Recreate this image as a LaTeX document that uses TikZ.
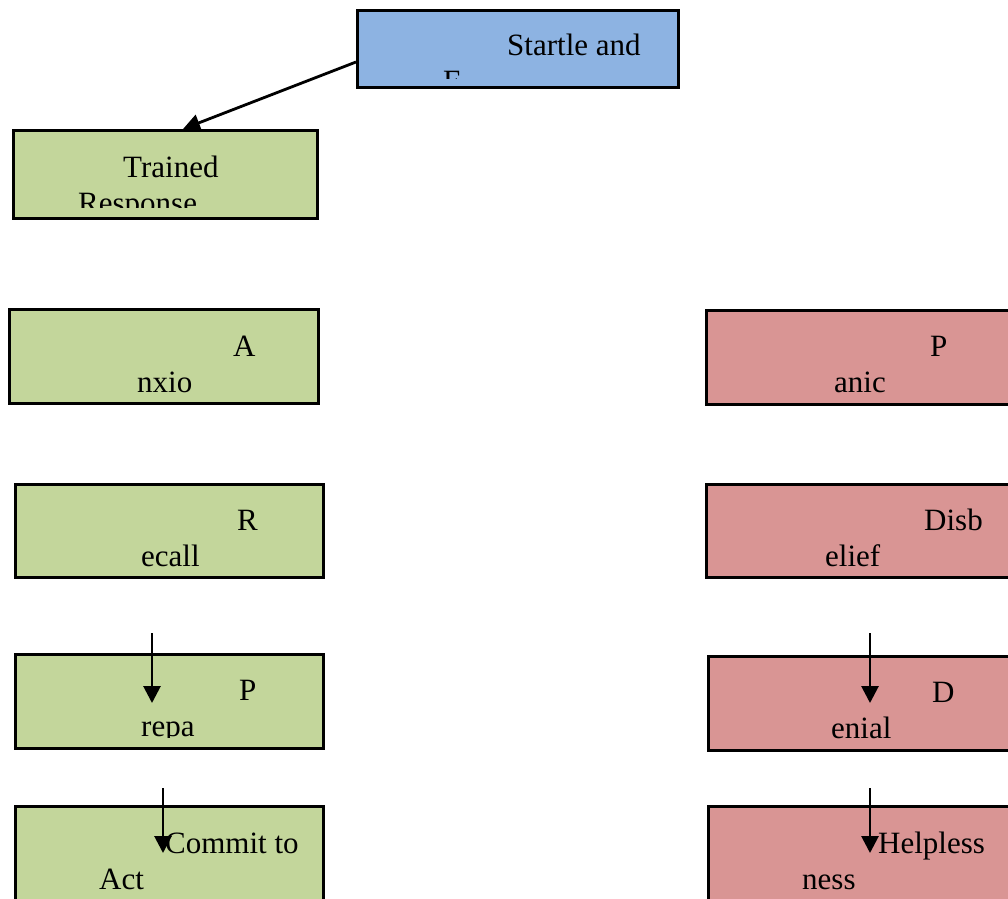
\documentclass[tikz,border=0pt]{standalone}
\usepackage{fontspec}
\setmainfont{Liberation Serif}
\usetikzlibrary{arrows.meta}
\definecolor{sblue}{HTML}{8DB3E2}
\definecolor{sgreen}{HTML}{C3D69B}
\definecolor{sred}{HTML}{D99594}
\tikzset{
  box/.style={draw=black, line width=2.6pt, rectangle, inner sep=0pt, anchor=north west},
  gbox/.style={box, fill=sgreen},
  rbox/.style={box, fill=sred},
  bbox/.style={box, fill=sblue},
  lbl/.style={anchor=base west, inner sep=0pt, font=\fontsize{31}{36}\selectfont, text=black},
  arr/.style={line width=2.8pt, -{Triangle[length=17pt,width=17pt]}}
}
\begin{document}
\begin{tikzpicture}[x=1pt,y=-1pt]
\useasboundingbox (0,0) rectangle (1008,898);
\clip (0,0) rectangle (1008,898);
\fill[white] (0,0) rectangle (1008,898);

% Startle and Fear
\node[bbox, minimum width=321pt, minimum height=77pt] (startle) at (356,9) {};
\begin{scope}
\clip (357,10) rectangle (676,78);
\node[lbl] (startleA) at (507,55) {Startle and};
\node[lbl] (startleB) at (443,91) {F};
\end{scope}

% Trained Response
\node[gbox, minimum width=304pt, minimum height=88pt] (trained) at (12,129) {};
\begin{scope}
\clip (13,130) rectangle (315,207);
\node[lbl] (trainedA) at (123,177) {Trained};
\node[lbl] (trainedB) at (78,213) {Response};
\end{scope}

% Anxiety
\node[gbox, minimum width=309pt, minimum height=94pt] (anxio) at (8,308) {};
\begin{scope}
\clip (9,309) rectangle (316,401);
\node[lbl] (anxioA) at (233,356) {A};
\node[lbl] (anxioB) at (137,392) {nxio};
\end{scope}

% Recall
\node[gbox, minimum width=308pt, minimum height=93pt] (recall) at (14,483) {};
\begin{scope}
\clip (15,484) rectangle (321,575);
\node[lbl] (recallA) at (237,530) {R};
\node[lbl] (recallB) at (141,566) {ecall};
\end{scope}

% Prepa
\node[gbox, minimum width=308pt, minimum height=94pt] (prepa) at (14,653) {};
\begin{scope}
\clip (15,654) rectangle (321,737);
\node[lbl] (prepaA) at (239,700) {P};
\node[lbl] (prepaB) at (141,736) {repa};
\end{scope}

% Commit to Act
\node[gbox, minimum width=308pt, minimum height=100pt] (commit) at (14,805) {};
\begin{scope}
\clip (15,806) rectangle (321,898);
\node[lbl] (commitA) at (165,853) {Commit to};
\node[lbl] (commitB) at (99,889) {Act};
\end{scope}

% Panic
\node[rbox, minimum width=310pt, minimum height=94pt] (panic) at (705,309) {};
\begin{scope}
\clip (706,310) rectangle (1008,402);
\node[lbl] (panicA) at (930,356) {P};
\node[lbl] (panicB) at (834,392) {anic};
\end{scope}

% Disbelief
\node[rbox, minimum width=310pt, minimum height=93pt] (disb) at (705,483) {};
\begin{scope}
\clip (706,484) rectangle (1008,575);
\node[lbl] (disbA) at (924,530) {Disb};
\node[lbl] (disbB) at (825,566) {elief};
\end{scope}

% Denial
\node[rbox, minimum width=308pt, minimum height=94pt] (denial) at (707,655) {};
\begin{scope}
\clip (708,656) rectangle (1008,748);
\node[lbl] (denialA) at (932,702) {D};
\node[lbl] (denialB) at (831,738) {enial};
\end{scope}

% Helplessness
\node[rbox, minimum width=308pt, minimum height=100pt] (help) at (707,805) {};
\begin{scope}
\clip (708,806) rectangle (1008,898);
\node[lbl] (helpA) at (878,853) {Helpless};
\node[lbl] (helpB) at (802,889) {ness};
\end{scope}

% connectors
\coordinate (s1) at (356,62);
\coordinate (t1) at (183,129);
\draw[arr] (s1) -- (t1);

\coordinate (p1s) at (152,633);
\coordinate (p1e) at (152,703);
\draw[arr] (p1s) -- (p1e);

\coordinate (c1s) at (163,788);
\coordinate (c1e) at (163,853);
\draw[arr] (c1s) -- (c1e);

\coordinate (d1s) at (870,633);
\coordinate (d1e) at (870,703);
\draw[arr] (d1s) -- (d1e);

\coordinate (h1s) at (870,788);
\coordinate (h1e) at (870,853);
\draw[arr] (h1s) -- (h1e);
\end{tikzpicture}
\end{document}
